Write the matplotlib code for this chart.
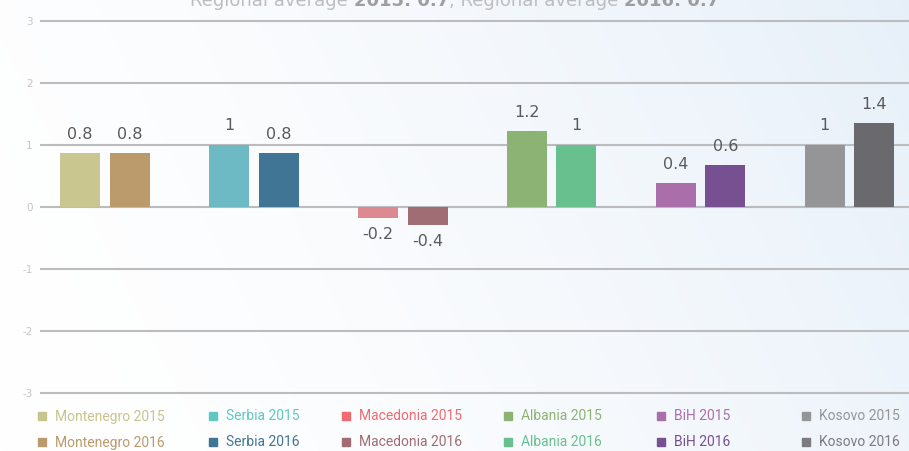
import numpy as np
import matplotlib
matplotlib.use("Agg")
import matplotlib.pyplot as plt
from matplotlib.patches import Rectangle

countries = ["Montenegro", "Serbia", "Macedonia", "Albania", "BiH", "Kosovo"]
years = ["2015", "2016"]
values_2015 = [0.87, 1.0, -0.19, 1.22, 0.38, 1.0]
values_2016 = [0.87, 0.87, -0.30, 1.0, 0.67, 1.34]
labels_2015 = ["0.8", "1", "-0.2", "1.2", "0.4", "1"]
labels_2016 = ["0.8", "0.8", "-0.4", "1", "0.6", "1.4"]
colors_2015 = ["#c9c68f", "#6dbac4", "#dc8a90", "#8db374", "#aa6faa", "#959598"]
colors_2016 = ["#bb9a6c", "#417595", "#a06d74", "#67c08e", "#765091", "#6a6a6e"]
legend_2015 = ["#c9c48e", "#5fc7c4", "#f06b6f", "#8db374", "#aa6faa", "#959598"]
legend_2016 = ["#bb9a6c", "#417595", "#a06d74", "#67c08e", "#765091", "#7c7c80"]
yticks = [-3, -2, -1, 0, 1, 2, 3]
title_parts = [("Regional average ", "normal"), ("2015: 0.7", "bold"),
               (", Regional average ", "normal"), ("2016: 0.7", "bold")]

W, H = 909, 451


def main() -> None:
    fig = plt.figure(figsize=(W / 100, H / 100), dpi=100)

    # background with a soft left-to-right blue gradient
    bg = fig.add_axes([0, 0, 1, 1])
    bg.set_xlim(0, W)
    bg.set_ylim(H, 0)
    bg.axis("off")
    gx, gy = np.meshgrid(np.linspace(0, 1, 300), np.linspace(0, 1, 150))
    t = np.clip(0.8 * gx + 0.2 * (1 - gy), 0, 1) ** 1.6
    c0 = np.array([1.0, 1.0, 1.0])
    c1 = np.array([0.905, 0.94, 0.975])
    bg.imshow(c0 + (c1 - c0) * t[..., None], extent=(0, W, H, 0),
              aspect="auto", zorder=0)

    # main plot area
    top_px, bot_px, left_px = 20.5, 392.7, 41
    ax = fig.add_axes([left_px / W, 1 - bot_px / H, (W - left_px) / W,
                       (bot_px - top_px) / H])
    ax.patch.set_alpha(0)
    for s in ax.spines.values():
        s.set_visible(False)
    ax.set_ylim(-3, 3)
    ax.set_xlim((left_px - 105) / 148.9, (W - 105) / 148.9)
    ax.set_yticks(yticks)
    ax.set_yticklabels([str(v) for v in yticks], color="#c6c6c8", fontsize=7.5)
    ax.tick_params(axis="y", length=0, pad=6)
    ax.set_xticks([])
    for v in yticks:
        ax.axhline(v, color="#bcbcbf", lw=1.5, zorder=0, clip_on=False)

    x = np.arange(len(countries))
    width = 40 / 148.9
    off = 49.5 / 148.9 / 2
    for vals, labs, cols, dx in [(values_2015, labels_2015, colors_2015, -off),
                                 (values_2016, labels_2016, colors_2016, off)]:
        ax.bar(x + dx, vals, width, color=cols, zorder=2)
        for xi, v, lab in zip(x + dx, vals, labs):
            if v >= 0:
                ax.annotate(lab, (xi, v), xytext=(0, 8), textcoords="offset points",
                            ha="center", va="bottom", fontsize=11.5, color="#5a5a5c")
            else:
                ax.annotate(lab, (xi, v), xytext=(0, -6), textcoords="offset points",
                            ha="center", va="top", fontsize=11.5, color="#5a5a5c")

    # title, mostly cut off at the top edge (as in the source)
    renderer = fig.canvas.get_renderer()
    pieces = []
    for txt, wt in title_parts:
        col = "#9e9ea0" if wt == "bold" else "#bdbdbf"
        pieces.append(bg.text(0, 6.5, txt, fontsize=13, fontweight=wt, color=col,
                              va="baseline", ha="left"))
    widths = [p.get_window_extent(renderer).width for p in pieces]
    xpos = W / 2 - sum(widths) / 2
    for p, w in zip(pieces, widths):
        p.set_x(xpos)
        xpos += w

    # legend laid out in two rows under the plot
    col_x = [38, 209, 342, 504, 657, 802]
    row_y = [416.5, 442.5]
    for i, c in enumerate(countries):
        for r, (yr, lc) in enumerate([(years[0], legend_2015[i]), (years[1], legend_2016[i])]):
            bg.add_patch(Rectangle((col_x[i], row_y[r] - 4.5), 8, 8, color=lc, zorder=3))
            bg.text(col_x[i] + 17, row_y[r], f"{c} {yr}", color=lc, fontsize=10,
                    family="Roboto", va="center", ha="left")

    fig.savefig("out.png", dpi=100)


if __name__ == "__main__":
    main()
